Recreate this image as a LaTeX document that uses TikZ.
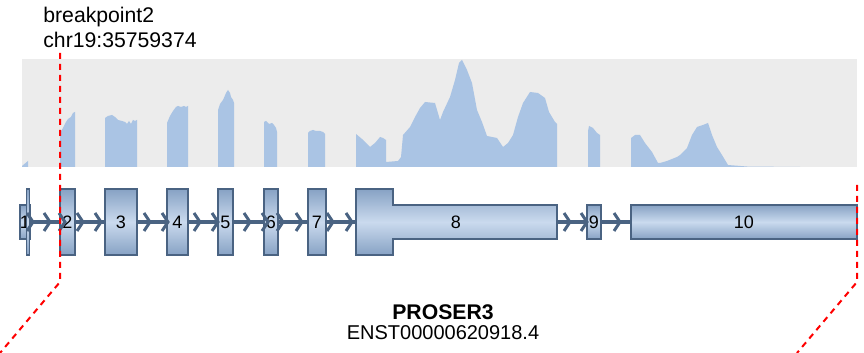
\documentclass[tikz,border=0pt]{standalone}
\usepackage{fontspec}
\setmainfont{Liberation Sans}
\usetikzlibrary{backgrounds}

\definecolor{covbg}{RGB}{236,236,236}
\definecolor{covfill}{RGB}{170,196,228}
\definecolor{exonline}{RGB}{74,99,130}
\definecolor{exondark}{RGB}{135,162,196}
\definecolor{exonlight}{RGB}{202,218,238}

\begin{document}
\begin{tikzpicture}[
        x=0.5pt, y=-0.5pt,
        exon/.style={draw=exonline, line width=0.75pt, top color=exondark, bottom color=exondark, middle color=exonlight, inner sep=0pt, font=\fontsize{9}{10}\selectfont},
        tall/.style={exon, minimum height=33pt},
        short/.style={exon, minimum height=17pt},
        backbone/.style={draw=exonline, line width=2pt},
        chev/.style={draw=exonline, line width=1.5pt, line join=miter},
        bpline/.style={draw=red, line width=1pt, dash pattern=on 3pt off 2.5pt},
        label/.style={inner sep=0pt, anchor=base west, font=\fontsize{10.6}{12}\selectfont}
    ]
        \useasboundingbox (0,0) rectangle (864,353);

        % Coverage track
        \fill[covbg] (22,59) rectangle (857,167);
        \fill[covfill] (22,167) -- (22,166) -- (28,161) -- (28,167) -- cycle
            (60,167) -- (60,133) -- (63,128) -- (66,122) -- (68,119) -- (71,117) -- (73,113) -- (75,112) -- (75,167) -- cycle
            (105,167) -- (105,118) -- (108,116) -- (112,115) -- (115,117) -- (118,120) -- (122,121) -- (125,122) -- (127,124) -- (129,121) -- (131,124) -- (133,120) -- (135,121) -- (137,120) -- (137,167) -- cycle
            (167,167) -- (167,123) -- (170,116) -- (173,111) -- (176,107) -- (178,106) -- (181,107) -- (184,106) -- (186,107) -- (188,106) -- (188,167) -- cycle
            (218,167) -- (218,110) -- (220,104) -- (223,100) -- (226,93) -- (228,90) -- (230,93) -- (231,97) -- (233,100) -- (234,103) -- (234,167) -- cycle
            (264,167) -- (264,122) -- (266,121) -- (269,124) -- (272,123) -- (274,125) -- (276,128) -- (277,132) -- (277,167) -- cycle
            (308,167) -- (308,133) -- (310,131) -- (313,130) -- (316,131) -- (320,131) -- (323,132) -- (325,134) -- (325,167) -- cycle
            (356,167) -- (356,134) -- (362,139) -- (370,147) -- (375,143) -- (380,137) -- (383,138) -- (386,140) -- (386,162) -- (398,161) -- (401,157) -- (403,135) -- (410,127) -- (415,117) -- (420,108) -- (425,102) -- (435,103) -- (440,120) -- (443,112) -- (450,97) -- (455,80) -- (459,63) -- (462,60) -- (467,70) -- (472,83) -- (477,110) -- (482,122) -- (487,136) -- (497,138) -- (503,147) -- (508,143) -- (513,135) -- (518,117) -- (523,103) -- (530,92) -- (538,93) -- (545,98) -- (549,112) -- (555,122) -- (557,124) -- (557,167) -- cycle
            (588,167) -- (588,131) -- (589,126) -- (593,128) -- (597,133) -- (600,135) -- (600,167) -- cycle
            (631,167) -- (631,138) -- (635,135) -- (640,135) -- (645,143) -- (652,152) -- (658,163) -- (660,163) -- (667,161) -- (677,157) -- (680,155) -- (687,148) -- (692,135) -- (697,127) -- (703,125) -- (708,123) -- (712,135) -- (717,147) -- (722,155) -- (728,165) -- (747,166.5) -- (800,167) -- cycle;

        % Breakpoint label
        \node[label] (bptitle) at (43,23) {breakpoint2};
        \node[label] (bppos) at (43,48) {chr19:35759374};

        % Exons
        \node[short, minimum width=3pt] (e1) at (25,222) {1};
        \node[tall, minimum width=1.3pt] (e1c) at (28,222) {};
        \node[tall, minimum width=7.5pt] (e2) at (67.5,222) {2};
        \node[tall, minimum width=16pt] (e3) at (121,222) {3};
        \node[tall, minimum width=10.5pt] (e4) at (177.5,222) {4};
        \node[tall, minimum width=7.5pt] (e5) at (225.5,222) {5};
        \node[tall, minimum width=7pt] (e6) at (271,222) {6};
        \node[tall, minimum width=9pt] (e7) at (317,222) {7};
        \path[exon] (356,189) -- (393,189) -- (393,205) -- (557,205) -- (557,239) -- (393,239) -- (393,255) -- (356,255) -- cycle;
        \node[inner sep=0pt, font=\fontsize{9}{10}\selectfont] (e8) at (456,222) {8};
        \node[short, minimum width=7pt] (e9) at (594,222) {9};
        \node[short, minimum width=113pt] (e10) at (744,222) {10};

        % Intron line and strand chevrons
        \begin{scope}[on background layer]
            \draw[backbone] (e1.east) -- (e10.west);
        \end{scope}
        \foreach \x in {33,50,65,83,101,150,168,200,218,250,268,283,302,333,352,570,587,620}
            \draw[chev] (\x-6,213) -- (\x,222) -- (\x-6,231);

        % Breakpoint lines
        \coordinate (bpTop) at (60,53);
        \coordinate (bpKnee) at (60,282);
        \coordinate (bpEnd) at (0,353);
        \coordinate (trTop) at (857,185);
        \coordinate (trKnee) at (857,282);
        \coordinate (trEnd) at (797,353);
        \draw[bpline] (bpTop) -- (bpKnee) -- (bpEnd);
        \draw[bpline] (trTop) -- (trKnee) -- (trEnd);

        % Gene name
        \node[inner sep=0pt, anchor=base, font=\fontsize{10.6}{12}\selectfont\bfseries] (gene) at (443,320) {PROSER3};
        \node[inner sep=0pt, anchor=base, font=\fontsize{10}{12}\selectfont] (tx) at (443,340) {ENST00000620918.4};
\end{tikzpicture}
\end{document}
